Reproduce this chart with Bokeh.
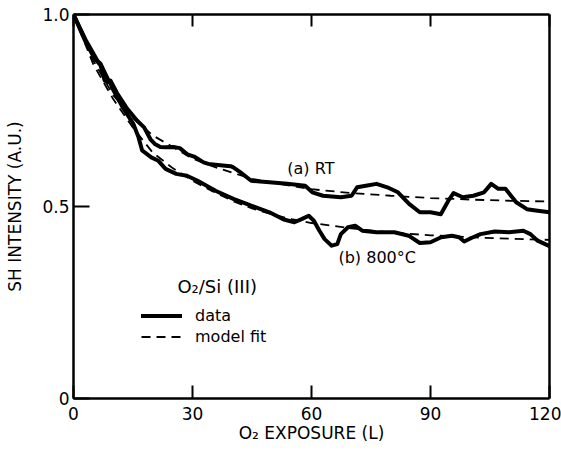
from bokeh.plotting import figure
from bokeh.models import (Range1d, LinearAxis, FixedTicker, Label, Legend, LegendItem)
from bokeh.embed import file_html
from bokeh.resources import INLINE

# ---- data ----
rt_x = [0, 3, 6, 6.8, 8.75, 9.3, 11, 13.3, 16.0, 17.8, 19.4, 20.5, 21.9, 23.2, 25.2, 26.8,
        28.7, 30.4, 32.8, 34, 37.6, 39.6, 40.3, 42.1, 44.8, 49.4, 53.9, 58.4, 60.2, 62.9,
        67.4, 70.1, 71.5, 73.7, 76.4, 79.1, 81.8, 84.6, 87.3, 90, 92.6, 94.5, 95.8, 98.1,
        100.8, 103.5, 105.3, 107.1, 108.9, 111.6, 114.3, 117, 120]
rt_y = [1.0, 0.935, 0.88, 0.872, 0.830, 0.828, 0.795, 0.758, 0.724, 0.706, 0.675, 0.663, 0.655, 0.654, 0.655, 0.652,
        0.636, 0.630, 0.615, 0.611, 0.607, 0.605, 0.602, 0.589, 0.567, 0.563, 0.559, 0.554, 0.537, 0.528,
        0.524, 0.528, 0.550, 0.554, 0.559, 0.550, 0.537, 0.507, 0.485, 0.485, 0.480, 0.515, 0.535, 0.524,
        0.528, 0.537, 0.559, 0.546, 0.546, 0.511, 0.493, 0.489, 0.485]

ht_x = [0, 3, 5.1, 6.8, 7.85, 9.3, 9.7, 12.4, 15.1, 16.4, 17.3, 19.6, 21.4, 23.2, 25.9, 28.6,
        31.3, 35.8, 40.3, 44.8, 49.4, 53, 55.7, 57.5, 59.3, 60.6, 62, 63.3, 65.1, 66.5, 67.4,
        69.2, 71, 72.8, 76.4, 80.9, 84.5, 87.3, 90, 92.7, 95.4, 97.2, 98.5, 100.3, 102.6,
        106.2, 109.8, 113.4, 115.2, 117, 119.7]
ht_y = [1.0, 0.93, 0.889, 0.868, 0.828, 0.822, 0.81, 0.758, 0.715, 0.680, 0.646, 0.628, 0.619, 0.598, 0.585, 0.580,
        0.567, 0.541, 0.520, 0.502, 0.485, 0.466, 0.459, 0.467, 0.476, 0.463, 0.437, 0.415, 0.398, 0.402, 0.428,
        0.446, 0.450, 0.437, 0.433, 0.433, 0.424, 0.405, 0.407, 0.420, 0.424, 0.420, 0.409, 0.418, 0.428,
        0.435, 0.433, 0.437, 0.428, 0.411, 0.398]

rt_fit_x = [0, 5, 10, 15, 20, 25, 30, 35, 40, 45, 50, 60, 70, 80, 90, 100, 110, 120]
rt_fit_y = [1.0, 0.88, 0.79, 0.73, 0.685, 0.655, 0.625, 0.605, 0.588, 0.572, 0.562, 0.545,
            0.535, 0.528, 0.522, 0.518, 0.515, 0.513]

ht_fit_x = [0, 5, 10, 15, 20, 25, 30, 35, 40, 45, 50, 55, 60, 70, 80, 90, 100, 110, 120]
ht_fit_y = [1.0, 0.87, 0.78, 0.705, 0.64, 0.60, 0.567, 0.54, 0.515, 0.495, 0.48, 0.467, 0.457,
            0.443, 0.432, 0.425, 0.420, 0.416, 0.413]

x_ticks = [0, 30, 60, 90, 120]
y_ticks = [0, 0.5, 1.0]
y_tick_labels = {0: "0", 0.5: "0.5", 1: "1.0"}

FONT = "DejaVu Sans"

p = figure(width=561, height=454, output_backend="svg", toolbar_location=None,
           x_range=Range1d(0, 120), y_range=Range1d(0, 1.0),
           min_border_left=73, min_border_right=12, min_border_top=14, min_border_bottom=56,
           x_axis_location=None, y_axis_location=None)
p.outline_line_color = None
p.xgrid.visible = False
p.ygrid.visible = False
p.background_fill_color = "white"
p.border_fill_color = "white"

AX_W = 2.5

def style(ax):
    ax.axis_line_width = AX_W
    ax.axis_line_color = "black"
    ax.major_tick_line_width = 2
    ax.major_tick_line_color = "black"
    ax.minor_tick_line_color = None
    ax.major_tick_out = 0
    ax.major_label_text_font = FONT
    ax.major_label_text_font_size = "17px"
    ax.major_label_text_color = "black"
    ax.axis_label_text_font = FONT
    ax.axis_label_text_font_size = "17px"
    ax.axis_label_text_font_style = "normal"
    ax.axis_label_text_color = "black"

bottom = LinearAxis(ticker=FixedTicker(ticks=x_ticks), axis_label="O₂ EXPOSURE (L)")
style(bottom)
bottom.major_tick_in = 13
bottom.major_label_standoff = 8
bottom.axis_label_standoff = 0
p.add_layout(bottom, "below")

left = LinearAxis(ticker=FixedTicker(ticks=y_ticks), axis_label="SH INTENSITY (A.U.)",
                  major_label_overrides=y_tick_labels)
style(left)
left.major_tick_in = 16
left.major_label_standoff = 4
left.axis_label_standoff = 14
p.add_layout(left, "left")

top = LinearAxis(ticker=FixedTicker(ticks=x_ticks),
                 major_label_overrides={t: "" for t in x_ticks})
style(top)
top.major_tick_in = 12
top.major_label_standoff = 0
p.add_layout(top, "above")

right = LinearAxis(ticker=FixedTicker(ticks=[]))
style(right)
right.major_tick_in = 0
right.major_label_standoff = 0
p.add_layout(right, "right")

r_rt = p.line(rt_x, rt_y, line_color="black", line_width=4, line_join="round", line_cap="round")
r_ht = p.line(ht_x, ht_y, line_color="black", line_width=4, line_join="round", line_cap="round")
f_rt = p.line(rt_fit_x, rt_fit_y, line_color="black", line_width=1.8, line_dash="9 6")
f_ht = p.line(ht_fit_x, ht_fit_y, line_color="black", line_width=1.8, line_dash="9 6")

p.add_layout(Label(x=53.9, y=0.60, text="(a) RT", text_font=FONT, text_font_size="16px",
                   text_baseline="middle", text_color="black"))
p.add_layout(Label(x=66.8, y=0.367, text="(b) 800°C", text_font=FONT, text_font_size="16px",
                   text_baseline="middle", text_color="black"))
p.add_layout(Label(x=26.2, y=0.292, text="O₂/Si (III)", text_font=FONT, text_font_size="18px",
                   text_baseline="middle", text_color="black"))

legend = Legend(items=[LegendItem(label="data", renderers=[r_rt]),
                       LegendItem(label="model fit", renderers=[f_rt])],
                location=(68, 51), orientation="vertical",
                glyph_width=41, glyph_height=21, label_standoff=13, spacing=0,
                padding=0, margin=0, border_line_color=None, background_fill_alpha=0,
                label_text_font=FONT, label_text_font_size="16px", label_text_font_style="normal",
                label_text_color="black")
p.add_layout(legend, "center")

open("out.html", "w").write(file_html(p, INLINE))
